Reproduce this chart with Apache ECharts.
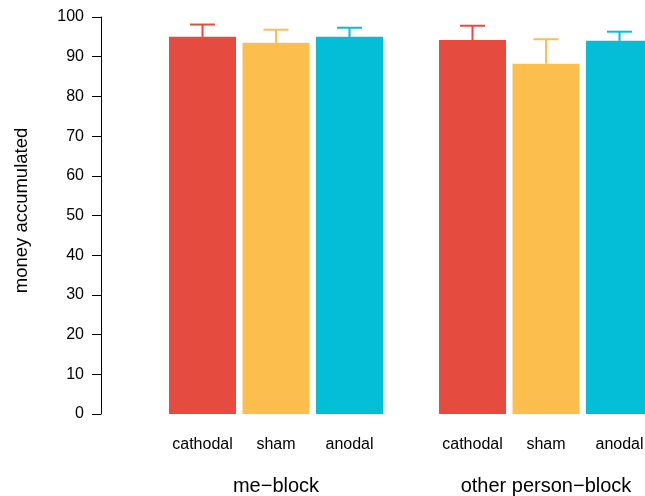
<!DOCTYPE html>
<html>
<head>
<meta charset="utf-8">
<script src="https://cdn.jsdelivr.net/npm/echarts@6/dist/echarts.min.js"></script>
<style>html,body{margin:0;padding:0;background:#fff;}#c{width:645px;height:496px;}</style>
</head>
<body>
<div id="c"></div>
<script>
const conditions = ["cathodal", "sham", "anodal"];
const groups = ["me\u2212block", "other person\u2212block"];
const meBlockMeans = [95.0, 93.5, 95.0];
const meBlockUpper = [98.1, 96.8, 97.3];
const otherBlockMeans = [94.2, 88.2, 94.0];
const otherBlockUpper = [97.8, 94.4, 96.3];
const barColors = ["#E54B3F", "#FCBE4D", "#03BED6"];
const yTicks = [0, 10, 20, 30, 40, 50, 60, 70, 80, 90, 100];

const FONT = "Liberation Sans, Helvetica, Arial, sans-serif";
const chart = echarts.init(document.getElementById('c'), null, {renderer: 'canvas'});

function barData(means) {
  return means.map((v, i) => ({value: v, itemStyle: {color: barColors[i]}}));
}
function errData(means, upper) {
  return means.map((v, i) => [i, v, upper[i]]);
}
function renderErr(params, api) {
  const x = api.value(0);
  const p0 = api.coord([x, api.value(1)]);
  const p1 = api.coord([x, api.value(2)]);
  const half = 12.5;
  const color = barColors[x];
  return {
    type: 'group',
    children: [
      {type: 'line', shape: {x1: p0[0], y1: p0[1], x2: p1[0], y2: p1[1]}, style: {stroke: color, lineWidth: 2}},
      {type: 'line', shape: {x1: p1[0] - half, y1: p1[1], x2: p1[0] + half, y2: p1[1]}, style: {stroke: color, lineWidth: 2}}
    ]
  };
}

const xAxisCommon = {
  type: 'category',
  data: conditions,
  axisLine: {show: false},
  axisTick: {show: false},
  axisLabel: {fontFamily: FONT, fontSize: 16, color: '#000', margin: 23, interval: 0},
  nameLocation: 'middle',
  nameGap: 62,
  nameTextStyle: {fontFamily: FONT, fontSize: 20, color: '#000'}
};

chart.setOption({
  animation: false,
  grid: [
    {left: 165.75, top: 17, width: 220.5, height: 397, outerBoundsMode: 'none', containLabel: false},
    {left: 435.75, top: 17, width: 220.5, height: 397, outerBoundsMode: 'none', containLabel: false}
  ],
  xAxis: [
    Object.assign({}, xAxisCommon, {gridIndex: 0, name: groups[0]}),
    Object.assign({}, xAxisCommon, {gridIndex: 1, name: groups[1]})
  ],
  yAxis: [
    {
      type: 'value', gridIndex: 0, min: yTicks[0], max: yTicks[yTicks.length - 1], interval: 10,
      offset: 64.75,
      axisLine: {show: true, lineStyle: {color: '#000', width: 1}},
      axisTick: {show: true, length: 9, lineStyle: {color: '#000', width: 1}},
      axisLabel: {fontFamily: FONT, fontSize: 16, color: '#000', margin: 17},
      splitLine: {show: false},
      name: 'money accumulated',
      nameLocation: 'middle',
      nameGap: 70,
      nameRotate: 90,
      nameTextStyle: {fontFamily: FONT, fontSize: 18.5, color: '#000', padding: [0, 0, 0, 10]}
    },
    {
      type: 'value', gridIndex: 1, min: 0, max: 100, interval: 10,
      show: false, splitLine: {show: false}
    }
  ],
  series: [
    {type: 'bar', xAxisIndex: 0, yAxisIndex: 0, barWidth: 67, data: barData(meBlockMeans)},
    {type: 'bar', xAxisIndex: 1, yAxisIndex: 1, barWidth: 67, data: barData(otherBlockMeans)},
    {type: 'custom', xAxisIndex: 0, yAxisIndex: 0, renderItem: renderErr, data: errData(meBlockMeans, meBlockUpper), z: 3},
    {type: 'custom', xAxisIndex: 1, yAxisIndex: 1, renderItem: renderErr, data: errData(otherBlockMeans, otherBlockUpper), z: 3}
  ]
});
</script>
</body>
</html>
